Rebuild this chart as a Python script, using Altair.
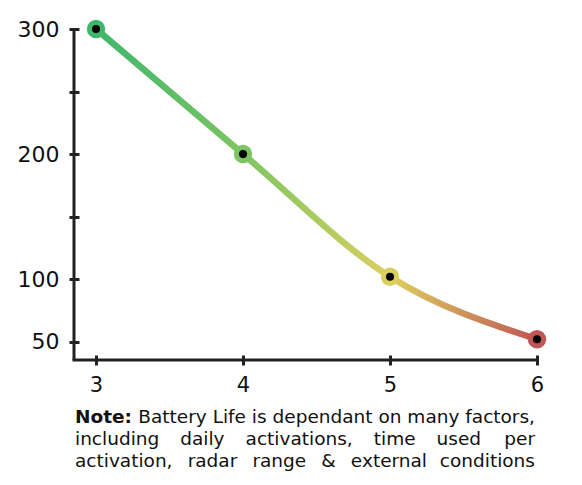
import altair as alt
import pandas as pd

# ---- data ----
x_vals = [3, 4, 5, 6]
y_vals = [300, 200, 102, 52]
point_colors = ["#3fb76b", "#7dc563", "#dccf5f", "#c05656"]

x_ticks = [3, 3.5, 4, 4.5, 5, 5.5, 6]
y_ticks = [50, 100, 150, 200, 250, 300]

note_bold = "Note:"
note_line1 = "Battery Life is dependant on many factors,"
note_line2 = ["including", "daily", "activations,", "time", "used", "per"]
note_line3 = ["activation,", "radar", "range", "&", "external", "conditions"]

df = pd.DataFrame({"x": x_vals, "y": y_vals, "c": point_colors})

W, H = 463, 331
FONT = "DejaVu Sans"
AX = "#222222"

xscale = alt.Scale(domain=[2.85, 6], nice=False, zero=False)
yscale = alt.Scale(domain=[35.4, 300], nice=False, zero=False)

x_axis = alt.Axis(
    values=x_ticks, format="d",
    labelExpr="datum.value % 1 === 0 ? datum.label : ''",
    domain=False, grid=False, ticks=True, tickSize=10, tickWidth=3, tickColor=AX,
    offset=-5, labelPadding=9, labelFont=FONT, labelFontSize=21, labelColor="#111",
    title=None, labelFlush=False,
)
y_axis = alt.Axis(
    values=y_ticks,
    labelExpr="indexof([50,100,200,300], datum.value) >= 0 ? datum.label : ''",
    domain=False, grid=False, ticks=True, tickSize=10, tickWidth=3, tickColor=AX,
    offset=-5, labelPadding=10, labelFont=FONT, labelFontSize=22, labelColor="#111",
    title=None, labelFlush=False,
)

base = alt.Chart(df)

grad = alt.Gradient(
    gradient="linear",
    stops=[
        alt.GradientStop(color=point_colors[0], offset=0),
        alt.GradientStop(color=point_colors[1], offset=0.333),
        alt.GradientStop(color=point_colors[2], offset=0.667),
        alt.GradientStop(color=point_colors[3], offset=1),
    ],
    x1=0, x2=1, y1=0, y2=0,
)

line = base.mark_line(color=grad, strokeWidth=6.5, interpolate="monotone").encode(
    x=alt.X("x:Q", scale=xscale, axis=x_axis),
    y=alt.Y("y:Q", scale=yscale, axis=y_axis),
)
outer = base.mark_circle(size=340, opacity=1).encode(
    x=alt.X("x:Q", scale=xscale), y=alt.Y("y:Q", scale=yscale),
    color=alt.Color("c:N", scale=None),
)
inner = base.mark_circle(size=65, opacity=1, color="black").encode(
    x=alt.X("x:Q", scale=xscale), y=alt.Y("y:Q", scale=yscale),
)

one = alt.Data(values=[{"a": 1}])
xdomain = alt.Chart(one).mark_rule(color=AX, strokeWidth=3).encode(
    x=alt.value(-1.5), x2=alt.value(W), y=alt.value(H)
)
ydomain = alt.Chart(one).mark_rule(color=AX, strokeWidth=3).encode(
    x=alt.value(0), y=alt.value(0), y2=alt.value(H)
)

NOTE_FS = 18.5
TXT = dict(font=FONT, fontSize=NOTE_FS, baseline="alphabetic", color="#111")

# justified lines: widen inter-word gaps with non-collapsing spaces,
# and pin the last word to the right edge
GAP2 = " \u2002\u00a0"
GAP3 = " \u2002"

t_bold = alt.Chart(one).mark_text(
    text=note_bold, fontWeight="bold", align="left", **TXT
).encode(x=alt.value(1), y=alt.value(394))
t1 = alt.Chart(one).mark_text(text=note_line1, align="right", **TXT).encode(
    x=alt.value(461), y=alt.value(394))
t2a = alt.Chart(one).mark_text(text=GAP2.join(note_line2[:-1]), align="left", **TXT).encode(
    x=alt.value(1), y=alt.value(416))
t2b = alt.Chart(one).mark_text(text=note_line2[-1], align="right", **TXT).encode(
    x=alt.value(461), y=alt.value(416))
t3a = alt.Chart(one).mark_text(text=GAP3.join(note_line3[:-1]), align="left", **TXT).encode(
    x=alt.value(1), y=alt.value(438))
t3b = alt.Chart(one).mark_text(text=note_line3[-1], align="right", **TXT).encode(
    x=alt.value(461), y=alt.value(438))

chart = alt.layer(
    line, xdomain, ydomain, outer, inner, t_bold, t1, t2a, t2b, t3a, t3b
).properties(
    width=W, height=H,
    autosize=alt.AutoSizeParams(type="none"),
    padding={"left": 66, "top": 21, "right": 37, "bottom": 117},
).configure(background="white").configure_view(strokeWidth=0, stroke=None)

chart.save("out.html", embed_options={"renderer": "svg", "actions": False})
